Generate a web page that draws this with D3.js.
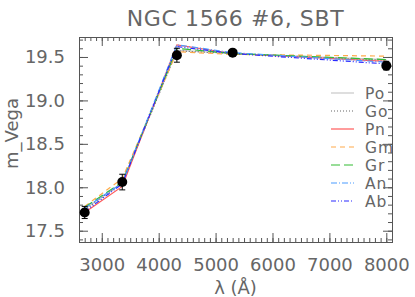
<!DOCTYPE html>
<html>
<head>
<meta charset="utf-8">
<script src="https://cdn.jsdelivr.net/npm/d3@7"></script>
<style>
  body { margin: 0; background: #fff; }
  text { font-family: "DejaVu Sans", sans-serif; fill: #666; }
</style>
</head>
<body>
<svg></svg>
<script>
// observed photometry
let wavelengths = [2700, 3360, 4320, 5300, 8000]
let obsMag = [17.71, 18.06, 19.52, 19.55, 19.40]
let obsErr = [0.07, 0.09, 0.08, 0.03, 0.05]

// model fits
let modelNames = ['Po', 'Go', 'Pn', 'Gm', 'Gr', 'An', 'Ab']
let modelColors = ['#c8c8c8', '#666666', '#ff5a5a', '#ffaa4a', '#33bb33', '#4a9cff', '#2a2aff']
let modelDashes = ['none', '1,2', 'none', '5,4', '9,4', '6,2,1,2', '5,2,1,2,1,2']
let modelPo = [17.75, 18.05, 19.58, 19.54, 19.47]
let modelGo = [17.74, 18.05, 19.57, 19.54, 19.46]
let modelPn = [17.71, 18.01, 19.64, 19.54, 19.45]
let modelGm = [17.78, 18.10, 19.56, 19.53, 19.51]
let modelGr = [17.77, 18.06, 19.60, 19.54, 19.47]
let modelAn = [17.76, 18.05, 19.64, 19.55, 19.44]
let modelAb = [17.72, 18.04, 19.62, 19.54, 19.42]
let modelValues = [modelPo, modelGo, modelPn, modelGm, modelGr, modelAn, modelAb]

let xTicks = [3000, 4000, 5000, 6000, 7000, 8000]
let yTicks = [17.5, 18.0, 18.5, 19.0, 19.5]

let width = 415
let height = 297
let padLeft = 79, padRight = 392, padTop = 37, padBottom = 242

let svg = d3.select('svg').attr('width', width).attr('height', height)

let xScale = d3.scaleLinear().domain([2600, 8100]).range([padLeft, padRight])
let yScale = d3.scaleLinear().domain([17.37, 19.73]).range([padBottom, padTop])

svg.append('defs').append('clipPath').attr('id', 'plotclip')
    .append('rect').attr('x', padLeft).attr('y', padTop)
    .attr('width', padRight - padLeft).attr('height', padBottom - padTop)

// axes, mirrored on all four sides
let axisGroups = [
    [d3.axisBottom, 'translate(0,' + padBottom + ')', xScale, xTicks, true],
    [d3.axisTop, 'translate(0,' + padTop + ')', xScale, xTicks, false],
    [d3.axisLeft, 'translate(' + padLeft + ',0)', yScale, yTicks, true],
    [d3.axisRight, 'translate(' + padRight + ',0)', yScale, yTicks, false]
]
axisGroups.forEach(a => {
    let isX = a[2] === xScale
    let minor = isX ? d3.range(2600, 8101, 100) : d3.range(174, 198, 1).map(v => v / 10)
    let minorAxis = a[0](a[2]).tickValues(minor).tickSize(-4).tickFormat('')
    let g1 = svg.append('g').attr('transform', a[1]).call(minorAxis)
    let majorAxis = a[0](a[2]).tickValues(a[3]).tickSize(-9).tickPadding(isX ? 16 : 14)
        .tickFormat(a[4] ? (isX ? d3.format('d') : d3.format('.1f')) : '')
    let g2 = svg.append('g').attr('transform', a[1]).call(majorAxis)
    ;[g1, g2].forEach(g => {
        g.selectAll('.domain').attr('stroke', '#555')
        g.selectAll('line').attr('stroke', '#555')
        g.selectAll('text').style('font-size', '18px').attr('fill', '#666')
    })
})

// model lines
let line = d3.line().x((d, i) => xScale(wavelengths[i])).y(d => yScale(d))
modelValues.forEach((vals, k) => {
    svg.append('path').datum(vals)
        .attr('d', line)
        .attr('fill', 'none')
        .attr('stroke', modelColors[k])
        .attr('stroke-width', 1.2)
        .attr('stroke-dasharray', modelDashes[k])
})

// observed points with error bars
let obs = wavelengths.map((w, i) => ({ w: w, m: obsMag[i], e: obsErr[i] }))
svg.selectAll('.err').data(obs).enter().append('path')
    .attr('class', 'err')
    .attr('d', d => {
        let x = xScale(d.w), y1 = yScale(d.m - d.e), y2 = yScale(d.m + d.e)
        return 'M' + x + ',' + y1 + 'V' + y2 + 'M' + (x - 3) + ',' + y1 + 'H' + (x + 3) + 'M' + (x - 3) + ',' + y2 + 'H' + (x + 3)
    })
    .attr('stroke', '#000').attr('stroke-width', 1).attr('fill', 'none')
svg.selectAll('.pt').data(obs).enter().append('circle')
    .attr('class', 'pt')
    .attr('cx', d => xScale(d.w)).attr('cy', d => yScale(d.m))
    .attr('r', 5).attr('fill', '#000')

// legend
let legend = svg.append('g').attr('clip-path', 'url(#plotclip)')
modelNames.forEach((name, k) => {
    let y = 93 + k * 18
    legend.append('line')
        .attr('x1', 331).attr('x2', 354).attr('y1', y).attr('y2', y)
        .attr('stroke', modelColors[k]).attr('stroke-width', 1.2)
        .attr('stroke-dasharray', modelDashes[k])
    legend.append('text').attr('x', 365).attr('y', y + 6)
        .style('font-size', '15.5px').style('letter-spacing', '1px').text(name)
})

// titles
svg.append('text').attr('x', (padLeft + padRight) / 2).attr('y', 26)
    .attr('text-anchor', 'middle').style('font-size', '22px').style('letter-spacing', '0.6px')
    .text('NGC 1566 #6, SBT')
svg.append('text').attr('x', (padLeft + padRight) / 2).attr('y', 294)
    .attr('text-anchor', 'middle').style('font-size', '18px')
    .text('λ (Å)')
svg.append('text')
    .attr('transform', 'translate(18,' + ((padTop + padBottom) / 2 - 6) + ') rotate(-90)')
    .attr('text-anchor', 'middle').style('font-size', '18px')
    .text('m_Vega')
</script>
</body>
</html>
